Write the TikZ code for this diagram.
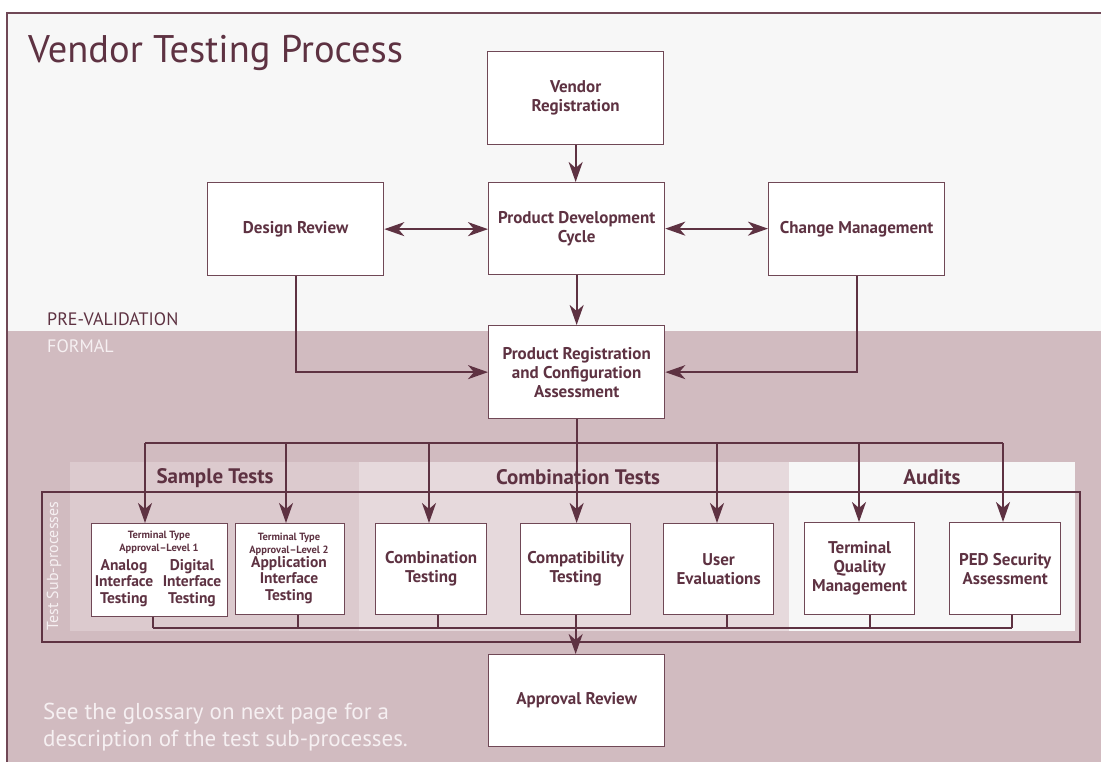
\documentclass[tikz,border=0pt]{standalone}
\usepackage{fontspec}
\setmainfont{PT Sans}
\usetikzlibrary{arrows.meta}
\definecolor{maroon}{RGB}{94,50,66}
\definecolor{boxline}{RGB}{112,72,86}
\definecolor{topbg}{RGB}{247,247,247}
\definecolor{pinkbg}{RGB}{209,187,192}
\definecolor{sampbg}{RGB}{220,202,206}
\definecolor{combbg}{RGB}{230,217,220}
\definecolor{audbg}{RGB}{247,247,247}
\definecolor{lighttxt}{RGB}{246,240,242}
\begin{document}
\begin{tikzpicture}[x=1pt,y=-1pt,
  proc/.style={draw=boxline, line width=1.3pt, fill=white, text=maroon,
    font=\bfseries\fontsize{17}{19}\selectfont, align=center, inner sep=0pt,
    anchor=north west},
  subtxt/.style={text=maroon, align=center, inner sep=0pt,
    font=\bfseries\fontsize{15.5}{16.7}\selectfont},
  smalltxt/.style={text=maroon, align=center, inner sep=0pt,
    font=\bfseries\fontsize{10.5}{13}\selectfont},
  bandlbl/.style={text=maroon, inner sep=0pt, font=\bfseries\fontsize{21}{24}\selectfont},
  conn/.style={draw=maroon, line width=2pt},
  arr/.style={conn, -{Stealth[length=20pt,width=14pt,inset=6pt]}},
  darr/.style={conn, {Stealth[length=20pt,width=14pt,inset=6pt]}-{Stealth[length=20pt,width=14pt,inset=6pt]}},
]
\useasboundingbox (0,0) rectangle (1101,762);
% backgrounds
\fill[white] (0,0) rectangle (1101,762);
\fill[topbg] (7,13) rectangle (1101,331);
\fill[pinkbg] (7,331) rectangle (1101,762);
\draw[boxline, line width=1.5pt] (7,762) -- (7,13) -- (1101,13);
% bands
\fill[sampbg] (70,462) rectangle (359,631);
\fill[combbg] (359,462) rectangle (789,631);
\fill[audbg] (789,462) rectangle (1075,631);
\draw[maroon, line width=1.5pt] (42,492) rectangle (1080,642);

% texts
\node[anchor=base west, inner sep=0pt, text=maroon, font=\fontsize{38.5}{40}\selectfont] (title) at (28,63) {Vendor Testing Process};
\node[anchor=base west, inner sep=0pt, text=maroon, font=\fontsize{18}{20}\selectfont] (prev) at (47,325) {PRE-VALIDATION};
\node[anchor=base west, inner sep=0pt, text=lighttxt, font=\fontsize{18}{20}\selectfont] (formal) at (47,352) {FORMAL};
\node[anchor=base west, inner sep=0pt, text=lighttxt, font=\fontsize{23}{27}\selectfont, align=left] (note) at (43,746) {See the glossary on next page for a\\description of the test sub-processes.};
\node[rotate=90, inner sep=0pt, text=lighttxt, font=\fontsize{16}{18}\selectfont] (tsp) at (54,566) {Test Sub-processes};
\node[bandlbl] (lsample) at (215,478) {Sample Tests};
\node[bandlbl] (lcomb) at (578,477) {Combination Tests};
\node[bandlbl] (laud) at (932,477) {Audits};

% main boxes
\node[proc, minimum width=176pt, minimum height=93pt] (vr) at (487,51) {Vendor\\Registration};
\node[proc, minimum width=176pt, minimum height=92pt] (pdc) at (488,182) {Product Development\\Cycle};
\node[proc, minimum width=176pt, minimum height=93pt] (dr) at (207,182) {Design Review};
\node[proc, minimum width=176pt, minimum height=93pt] (cm) at (768,182) {Change Management};
\node[proc, minimum width=176pt, minimum height=93pt] (prca) at (488,325) {Product Registration\\and Configuration\\Assessment};
\node[proc, minimum width=176pt, minimum height=92pt] (ar) at (488,654) {Approval Review};

% sub-process boxes
\node[proc, minimum width=136pt, minimum height=93pt] (tta1) at (91,523) {};
\node[proc, minimum width=109pt, minimum height=91pt] (tta2) at (235,523) {};
\node[proc, minimum width=111pt, minimum height=91pt] (ct) at (375,523) {Combination\\Testing};
\node[proc, minimum width=110pt, minimum height=91pt] (compat) at (520,523) {Compatibility\\Testing};
\node[proc, minimum width=110pt, minimum height=91pt] (ue) at (663,523) {User\\Evaluations};
\node[proc, minimum width=110pt, minimum height=92pt] (tqm) at (804,522) {Terminal\\Quality\\Management};
\node[proc, minimum width=111pt, minimum height=92pt] (ped) at (949,522) {PED Security\\Assessment};

\node[smalltxt] (tta1h) at (159,542) {Terminal Type\\Approval–Level 1};
\node[subtxt] (analog) at (124,583) {Analog\\Interface\\Testing};
\node[subtxt] (digital) at (192,583) {Digital\\Interface\\Testing};
\node[smalltxt] (tta2h) at (289,544) {Terminal Type\\Approval–Level 2};
\node[subtxt] (appl) at (289,580) {Application\\Interface\\Testing};

% connectors top
\draw[arr] (vr.south) -- (vr.south |- pdc.north);
\draw[arr] (pdc.south) -- (pdc.south |- prca.north);
\draw[darr] (dr.east) -- (dr.east -| pdc.west);
\draw[darr] (pdc.east) -- (pdc.east -| cm.west);
\draw[arr] (dr.south) |- (prca.west);
\draw[arr] (cm.south) |- (prca.east);

% top bus
\coordinate (b1) at (145,443);
\coordinate (b2) at (286,443);
\coordinate (b3) at (429,443);
\coordinate (b5) at (717,443);
\coordinate (b6) at (859,443);
\coordinate (b7) at (1003,443);
\draw[conn] (b1) -- (b7);
\draw[arr] (b1) -- (b1 |- tta1.north);
\draw[arr] (b2) -- (b2 |- tta2.north);
\draw[arr] (b3) -- (b3 |- ct.north);
\draw[arr] (prca.south) -- (prca.south |- compat.north);
\draw[arr] (b5) -- (b5 |- ue.north);
\draw[arr] (b6) -- (b6 |- tqm.north);
\draw[arr] (b7) -- (b7 |- ped.north);

% bottom bus
\coordinate (d1) at (153,628);
\coordinate (d2) at (298,628);
\coordinate (d3) at (438,628);
\coordinate (d5) at (727,628);
\coordinate (d6) at (870,628);
\coordinate (d7) at (1012,628);
\draw[conn] (d1) -- (d7);
\draw[conn] (d1 |- tta1.south) -- (d1);
\draw[conn] (d2 |- tta2.south) -- (d2);
\draw[conn] (d3 |- ct.south) -- (d3);
\draw[conn] (d5 |- ue.south) -- (d5);
\draw[conn] (d6 |- tqm.south) -- (d6);
\draw[conn] (d7 |- ped.south) -- (d7);
\draw[arr] (compat.south) -- (compat.south |- ar.north);
\end{tikzpicture}
\end{document}
